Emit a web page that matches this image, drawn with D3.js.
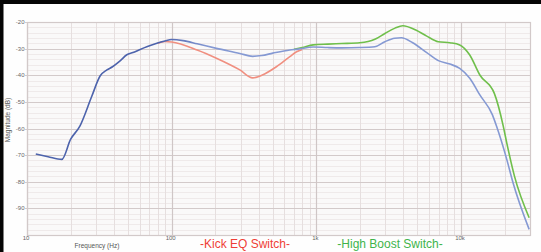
<!DOCTYPE html>
<html>
<head>
<meta charset="utf-8">
<script src="https://cdn.jsdelivr.net/npm/d3@7"></script>
<style>
  body { margin: 0; background: #fefefe; }
  svg { display: block; font-family: "Liberation Sans", Arial, sans-serif; }
</style>
</head>
<body>
<div id="chart"></div>
<script>
const width = 541;
const height = 252;
const margin = { top: 22, right: 11, bottom: 17, left: 27 };

// flat response (blue)
const flatFreqs = [11.5, 14, 17.4, 20, 23.2, 28, 32, 35.7, 39, 44, 49, 54, 60, 68, 79, 90, 100, 120, 150, 204, 296, 363, 420, 500, 656, 744, 950, 1200, 1500, 2000, 2540, 2980, 3480, 3870, 4640, 5800, 6970, 8380, 9800, 11500, 13500, 16500, 17600, 20700, 22900, 29600];
const flatValues = [-69.6, -70.6, -71.6, -64.1, -59.1, -48, -40.3, -38, -36.8, -34.6, -32.3, -31.5, -30.4, -29.2, -28, -27.1, -26.6, -27, -28.2, -29.9, -31.8, -32.9, -32.6, -31.7, -30.5, -30.2, -29.4, -29.6, -29.7, -29.6, -29.3, -27.4, -26.1, -25.9, -27.8, -31.5, -34.5, -35.8, -37.4, -41.1, -47.4, -54.9, -59.1, -71.5, -80.4, -97.9];

// kick EQ switch (red)
const kickFreqs = [80, 90, 100, 150, 204, 296, 363, 420, 530, 656, 730, 800];
const kickValues = [-28, -27.3, -27.5, -30.5, -33.6, -38, -41, -40, -36.8, -33, -31.2, -30.3];

// high boost switch (green)
const boostFreqs = [700, 800, 950, 1200, 1500, 2000, 2540, 2980, 3500, 3960, 4870, 5800, 6970, 8380, 9800, 11500, 13500, 17000, 19600, 20700, 23400, 29600];
const boostValues = [-30.3, -29.6, -28.6, -28.3, -28.1, -27.8, -26.5, -24.3, -22.3, -21.4, -23, -25.3, -27.4, -27.8, -28.6, -32.4, -39.9, -46.8, -59.1, -65.3, -77.8, -93.5];

const yTicks = [-20, -30, -40, -50, -60, -70, -80, -90];
const xTicks = [10, 100, 1000, 10000];
const xTickLabels = ["10", "100", "1k", "10k"];

const svg = d3.select("#chart").append("svg")
  .attr("width", width)
  .attr("height", height);

const x = d3.scaleLog().domain([10, 30000]).range([margin.left, width - margin.right]);
const y = d3.scaleLinear().domain([-100, -20]).range([height - margin.bottom, margin.top]);

// frame of the photo
svg.append("rect").attr("x", 0).attr("y", 0).attr("width", width).attr("height", 4).attr("fill", "#050505");
svg.append("rect").attr("x", 0).attr("y", 0).attr("width", 3.5).attr("height", height).attr("fill", "#050505");

// plot background
svg.append("rect")
  .attr("x", x.range()[0]).attr("y", y.range()[1])
  .attr("width", x.range()[1] - x.range()[0])
  .attr("height", y.range()[0] - y.range()[1])
  .attr("fill", "#faf9f9");

const grid = svg.append("g");

// minor horizontal lines
grid.selectAll(".hmin")
  .data(d3.range(-98, -20, 2).filter(d => d % 10 !== 0))
  .enter().append("line")
  .attr("x1", x.range()[0]).attr("x2", x.range()[1])
  .attr("y1", d => Math.round(y(d)) + 0.5).attr("y2", d => Math.round(y(d)) + 0.5)
  .attr("stroke", "#efeaea").attr("stroke-width", 1);

// minor vertical lines
const minorFreqs = [];
[10, 100, 1000, 10000].forEach(dec => {
  for (let k = 2; k <= 9; k++) if (dec * k < 30000) minorFreqs.push(dec * k);
});
grid.selectAll(".vmin")
  .data(minorFreqs)
  .enter().append("line")
  .attr("x1", d => Math.round(x(d)) + 0.5).attr("x2", d => Math.round(x(d)) + 0.5)
  .attr("y1", y.range()[1]).attr("y2", y.range()[0])
  .attr("stroke", "#e6dfdf").attr("stroke-width", 1);

// major lines
grid.selectAll(".hmaj")
  .data(yTicks)
  .enter().append("line")
  .attr("x1", x.range()[0] - 2).attr("x2", x.range()[1])
  .attr("y1", d => Math.round(y(d)) + 0.5).attr("y2", d => Math.round(y(d)) + 0.5)
  .attr("stroke", "#d3caca").attr("stroke-width", 1.2);

grid.selectAll(".vmaj")
  .data(xTicks)
  .enter().append("line")
  .attr("x1", d => Math.round(x(d)) + 0.5).attr("x2", d => Math.round(x(d)) + 0.5)
  .attr("y1", y.range()[1]).attr("y2", y.range()[0] + 2)
  .attr("stroke", "#cfc6c6").attr("stroke-width", 1.2);

// border
svg.append("rect")
  .attr("x", x.range()[0] + 0.5).attr("y", y.range()[1] + 0.5)
  .attr("width", x.range()[1] - x.range()[0])
  .attr("height", y.range()[0] - y.range()[1])
  .attr("fill", "none").attr("stroke", "#d2c9c9").attr("stroke-width", 1.2);

// tick labels
svg.append("g").selectAll("text")
  .data(yTicks)
  .enter().append("text")
  .attr("x", x.range()[0] - 2.5)
  .attr("y", d => y(d) + 2)
  .attr("text-anchor", "end")
  .attr("font-size", 6)
  .attr("fill", "#666")
  .text(d => d);

svg.append("g").selectAll("text")
  .data(xTicks)
  .enter().append("text")
  .attr("x", d => x(d) - 1)
  .attr("y", height - 12)
  .attr("text-anchor", "middle")
  .attr("font-size", 6)
  .attr("fill", "#666")
  .text((d, i) => xTickLabels[i]);

svg.append("text")
  .attr("x", 97).attr("y", 248)
  .attr("text-anchor", "middle")
  .attr("font-size", 6.5)
  .attr("fill", "#555")
  .text("Frequency (Hz)");

svg.append("text")
  .attr("transform", "translate(10,120) rotate(-90)")
  .attr("text-anchor", "middle")
  .attr("font-size", 6.5)
  .attr("fill", "#555")
  .text("Magnitude (dB)");

// curves
const line = d3.line()
  .x(d => x(d[0]))
  .y(d => y(d[1]))
  .curve(d3.curveMonotoneX);

const defs = svg.append("defs");
const grad = defs.append("linearGradient")
  .attr("id", "blueGrad")
  .attr("gradientUnits", "userSpaceOnUse")
  .attr("x1", x(85)).attr("x2", x(180)).attr("y1", 0).attr("y2", 0);
grad.append("stop").attr("offset", 0).attr("stop-color", "#4d63ac");
grad.append("stop").attr("offset", 1).attr("stop-color", "#8599d3");

svg.append("path")
  .datum(kickFreqs.map((f, i) => [f, kickValues[i]]))
  .attr("d", line)
  .attr("fill", "none")
  .attr("stroke", "#f08f80")
  .attr("stroke-width", 1.6);

svg.append("path")
  .datum(boostFreqs.map((f, i) => [f, boostValues[i]]))
  .attr("d", line)
  .attr("fill", "none")
  .attr("stroke", "#6fbf4b")
  .attr("stroke-width", 1.6);

svg.append("path")
  .datum(flatFreqs.map((f, i) => [f, flatValues[i]]))
  .attr("d", line)
  .attr("fill", "none")
  .attr("stroke", "url(#blueGrad)")
  .attr("stroke-width", 1.6);

// switch captions
svg.append("text")
  .attr("x", 245).attr("y", 248)
  .attr("text-anchor", "middle")
  .attr("font-size", 12)
  .attr("fill", "#ef3e36")
  .text("-Kick EQ Switch-");

svg.append("text")
  .attr("x", 390).attr("y", 248)
  .attr("text-anchor", "middle")
  .attr("font-size", 12)
  .attr("fill", "#3fb44b")
  .text("-High Boost Switch-");
</script>
</body>
</html>
